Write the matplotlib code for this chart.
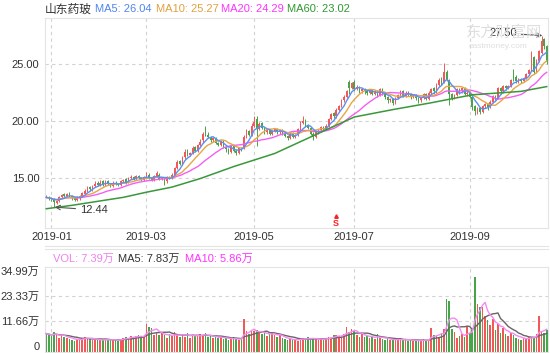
import numpy as np
import pandas as pd
import matplotlib
matplotlib.use('Agg')
import matplotlib.pyplot as plt
from matplotlib.lines import Line2D

plt.rcParams['font.family'] = ['Liberation Sans', 'Noto Sans CJK SC']

# daily K-line data, one value per trading day (2018-12-27 .. 2019-10-22)
opens = [13.4, 13.3, 13.2, 13.1, 12.8, 13.0, 13.3, 13.6, 13.4, 13.7,
         13.4, 13.2, 13.1, 13.2, 13.4, 13.6, 13.9, 14.2, 14.0, 14.3,
         14.6, 14.4, 14.7, 14.4, 14.7, 14.5, 14.3, 14.6, 14.5, 14.4,
         14.7, 14.9, 14.7, 15.0, 15.1, 14.9, 15.2, 15.0, 14.8, 15.1,
         15.3, 15.0, 14.8, 15.2, 15.3, 14.9, 15.0, 14.7, 15.1, 15.0,
         15.3, 15.9, 16.5, 16.2, 16.8, 17.4, 17.0, 17.2, 17.7, 17.4,
         17.9, 18.3, 19.4, 18.8, 18.6, 18.3, 18.5, 18.1, 17.9, 18.2,
         17.7, 17.5, 17.3, 17.8, 17.4, 17.2, 17.6, 17.6, 18.6, 19.1,
         18.8, 19.6, 20.2, 19.3, 19.8, 19.4, 19.0, 19.2, 18.9, 19.1,
         19.3, 19.0, 19.2, 18.9, 18.7, 18.5, 18.9, 18.6, 18.8, 19.3,
         19.8, 20.1, 19.6, 19.4, 18.9, 18.6, 19.0, 19.2, 19.5, 19.3,
         19.6, 20.2, 20.7, 20.4, 21.0, 21.3, 21.8, 22.1, 23.4, 22.9,
         23.4, 22.8, 23.0, 22.6, 22.8, 22.6, 22.5, 22.7, 22.4, 22.6,
         22.3, 22.8, 22.4, 22.1, 21.8, 21.9, 21.6, 22.0, 22.3, 22.6,
         22.2, 22.5, 22.4, 22.1, 22.3, 22.0, 21.8, 22.0, 22.4, 21.9,
         22.5, 22.9, 22.6, 23.2, 23.7, 23.4, 24.3, 23.6, 22.4, 22.0,
         22.3, 22.8, 22.6, 22.9, 22.4, 22.5, 22.1, 21.3, 20.8, 21.1,
         20.8, 21.3, 21.5, 21.2, 21.7, 22.2, 22.0, 22.9, 22.6, 23.1,
         22.9, 23.1, 24.4, 23.9, 23.5, 23.7, 23.5, 23.8, 24.1, 24.5,
         25.6, 24.3, 25.3, 26.0, 27.2, 26.6]
closes = [13.3, 13.2, 13.1, 12.9, 13.0, 13.3, 13.5, 13.4, 13.6, 13.4,
          13.2, 13.1, 13.3, 13.4, 13.7, 13.9, 14.1, 14.0, 14.3, 14.5,
          14.4, 14.6, 14.4, 14.7, 14.5, 14.3, 14.6, 14.5, 14.4, 14.7,
          14.8, 14.6, 15.0, 15.1, 14.9, 15.2, 15.0, 14.8, 15.1, 15.3,
          15.0, 14.8, 15.2, 15.4, 14.9, 15.0, 14.7, 15.1, 15.0, 15.3,
          15.9, 16.4, 16.2, 16.8, 17.3, 17.0, 17.2, 17.6, 17.4, 17.9,
          18.2, 18.9, 18.8, 18.6, 18.3, 18.5, 18.1, 17.9, 18.2, 17.7,
          17.5, 17.3, 17.8, 17.4, 17.2, 17.6, 17.5, 18.6, 19.1, 18.8,
          19.6, 19.9, 19.3, 19.7, 19.4, 19.0, 19.2, 18.9, 19.1, 19.3,
          19.0, 19.2, 18.9, 18.7, 18.5, 18.9, 18.6, 18.8, 19.3, 19.8,
          20.0, 19.6, 19.4, 18.9, 18.6, 19.0, 19.2, 19.5, 19.3, 19.6,
          20.2, 20.6, 20.4, 21.0, 21.3, 21.8, 22.1, 22.6, 22.9, 23.3,
          22.8, 23.0, 22.6, 22.8, 22.6, 22.5, 22.7, 22.4, 22.6, 22.3,
          22.8, 22.4, 22.1, 21.8, 21.9, 21.6, 22.0, 22.3, 22.6, 22.2,
          22.5, 22.4, 22.1, 22.3, 22.0, 21.8, 22.0, 22.4, 21.9, 22.5,
          22.8, 22.6, 23.2, 23.6, 23.4, 24.3, 23.7, 22.4, 22.0, 22.3,
          22.8, 22.6, 22.9, 22.4, 22.5, 22.1, 21.2, 20.9, 21.0, 20.8,
          21.3, 21.5, 21.2, 21.7, 22.2, 22.0, 22.9, 22.6, 23.1, 22.9,
          23.1, 23.6, 23.9, 23.5, 23.7, 23.5, 23.8, 24.1, 24.5, 25.8,
          24.3, 25.3, 26.1, 27.0, 26.6, 25.2]
highs = [13.5, 13.4, 13.3, 13.2, 13.1, 13.4, 13.6, 13.7, 13.7, 13.8,
         13.5, 13.3, 13.4, 13.5, 13.8, 14.0, 14.3, 14.3, 14.4, 14.7,
         14.7, 14.8, 14.8, 14.8, 14.8, 14.6, 14.7, 14.7, 14.6, 14.8,
         14.9, 15.0, 15.1, 15.3, 15.2, 15.3, 15.3, 15.1, 15.2, 15.5,
         15.4, 15.1, 15.3, 15.6, 15.4, 15.1, 15.1, 15.2, 15.2, 15.4,
         16.0, 16.6, 16.6, 16.9, 17.5, 17.5, 17.3, 17.8, 17.8, 18.0,
         18.4, 19.0, 19.6, 19.0, 18.7, 18.6, 18.6, 18.2, 18.3, 18.3,
         17.8, 17.6, 17.9, 17.9, 17.5, 17.7, 17.7, 18.8, 19.3, 19.2,
         19.8, 20.4, 20.4, 19.9, 19.9, 19.5, 19.3, 19.3, 19.2, 19.4,
         19.4, 19.3, 19.3, 19.0, 18.8, 19.0, 19.0, 18.9, 19.4, 20.0,
         20.4, 20.2, 19.7, 19.5, 19.0, 19.1, 19.3, 19.6, 19.6, 19.7,
         20.3, 20.7, 20.8, 21.1, 21.4, 21.9, 22.3, 22.7, 23.6, 23.4,
         23.6, 23.2, 23.1, 22.9, 22.9, 22.7, 22.8, 22.8, 22.7, 22.7,
         22.9, 22.9, 22.5, 22.2, 22.0, 22.0, 22.1, 22.4, 22.7, 22.7,
         22.6, 22.6, 22.5, 22.4, 22.4, 22.1, 22.1, 22.5, 22.5, 22.6,
         22.9, 23.0, 23.3, 23.8, 23.9, 25.1, 24.5, 23.7, 22.5, 22.4,
         22.9, 22.9, 23.0, 23.0, 22.6, 22.6, 22.2, 21.4, 21.2, 21.2,
         21.4, 21.6, 21.6, 21.8, 22.3, 22.3, 23.0, 23.0, 23.2, 23.2,
         23.2, 23.7, 24.6, 24.0, 23.8, 23.8, 23.9, 24.2, 24.6, 26.1,
         25.7, 25.4, 26.2, 27.5, 27.3, 26.7]
lows = [13.2, 13.1, 13.0, 12.44, 12.7, 12.9, 13.2, 13.3, 13.3, 13.3,
        13.1, 13.0, 13.0, 13.1, 13.3, 13.5, 13.8, 13.9, 13.9, 14.2,
        14.3, 14.3, 14.3, 14.3, 14.4, 14.2, 14.2, 14.4, 14.3, 14.3,
        14.6, 14.5, 14.6, 14.9, 14.8, 14.8, 14.9, 14.7, 14.7, 15.0,
        14.9, 14.7, 14.7, 15.1, 14.8, 14.8, 14.4, 14.6, 14.9, 14.9,
        15.2, 15.8, 16.1, 16.1, 16.7, 16.9, 16.9, 17.1, 17.3, 17.3,
        17.8, 18.1, 18.7, 18.5, 18.2, 18.2, 18.0, 17.8, 17.8, 17.6,
        17.3, 17.1, 17.2, 17.3, 17.0, 17.1, 17.4, 17.5, 18.5, 18.7,
        18.7, 19.5, 17.8, 19.2, 19.3, 18.9, 18.9, 18.8, 18.8, 19.0,
        18.9, 18.9, 18.8, 18.6, 18.3, 18.4, 18.5, 18.5, 18.7, 19.2,
        19.7, 19.5, 19.3, 18.8, 18.3, 18.5, 18.9, 19.1, 19.2, 19.2,
        19.5, 20.1, 20.3, 20.3, 20.9, 21.2, 21.7, 22.0, 22.4, 22.8,
        22.6, 22.7, 22.5, 22.5, 22.4, 22.3, 22.4, 22.3, 22.3, 22.1,
        22.2, 22.3, 21.9, 21.6, 21.7, 21.4, 21.5, 21.9, 22.2, 22.1,
        22.1, 22.2, 21.9, 22.0, 21.8, 21.6, 21.7, 21.9, 21.8, 21.8,
        22.4, 22.4, 22.5, 23.1, 23.2, 23.3, 23.5, 21.4, 21.8, 21.9,
        22.2, 22.4, 22.5, 22.3, 22.2, 22.0, 21.0, 20.5, 20.6, 20.6,
        20.7, 21.1, 21.0, 21.1, 21.6, 21.8, 21.9, 22.4, 22.5, 22.7,
        22.8, 23.0, 23.5, 23.3, 23.3, 23.3, 23.4, 23.7, 24.0, 24.4,
        24.1, 24.2, 25.2, 25.9, 26.3, 25.0]
# volume in 万 shares
volumes = [5.8, 5.2, 4.6, 6.3, 5.5, 3.9, 5.0, 4.2, 3.6, 3.3,
           2.9, 2.5, 3.4, 3.0, 3.8, 4.4, 3.7, 3.2, 2.9, 2.6,
           3.1, 2.8, 2.7, 3.3, 2.9, 2.6, 3.0, 2.8, 2.5, 3.4,
           3.9, 4.2, 3.6, 4.5, 4.1, 4.8, 5.2, 3.8, 4.4, 10.4,
           9.0, 8.6, 5.1, 6.7, 4.9, 6.0, 5.2, 3.8, 5.5, 4.6,
           6.4, 5.0, 4.4, 5.8, 4.2, 6.2, 3.5, 5.1, 4.7, 4.9,
           5.6, 4.8, 5.9, 4.1, 4.5, 3.7, 4.3, 3.9, 4.6, 3.2,
           3.6, 2.9, 3.3, 4.0, 3.1, 2.8, 3.5, 12.5, 7.2, 5.6,
           7.3, 6.8, 7.5, 6.2, 5.4, 6.0, 4.6, 5.8, 6.4, 5.1,
           4.3, 4.9, 3.7, 3.3, 2.6, 3.1, 2.8, 3.4, 2.5, 3.6,
           3.9, 3.2, 4.0, 2.9, 3.7, 3.3, 2.8, 3.4, 3.0, 3.9,
           4.4, 3.8, 4.9, 5.3, 4.7, 4.5, 5.8, 9.0, 6.4, 7.8,
           6.9, 5.2, 4.4, 5.6, 4.1, 4.8, 3.6, 4.2, 3.4, 5.5,
           3.8, 3.2, 2.9, 3.5, 2.7, 3.1, 2.6, 2.9, 3.6, 2.8,
           3.0, 2.5, 2.7, 2.4, 2.8, 2.3, 2.6, 3.2, 2.5, 2.9,
           8.6, 5.0, 4.7, 4.4, 6.1, 8.0, 22.0, 21.0, 7.7, 6.3,
           3.9, 4.6, 5.8, 4.3, 9.2, 6.1, 7.4, 32.0, 19.6, 18.0,
           18.2, 14.0, 12.3, 9.6, 12.8, 7.6, 10.1, 6.2, 8.4, 5.5,
           4.7, 6.0, 5.1, 3.8, 3.2, 2.9, 3.5, 3.8, 4.2, 4.0,
           3.95, 5.5, 14.0, 6.3, 5.96, 7.39]

# MA60 (needs history before the window)
ma60_days = [0, 10, 20, 30, 39, 49, 60, 73, 89, 104, 120, 135, 150, 166, 185, 195]
ma60_vals = [12.3, 12.6, 12.95, 13.3, 13.75, 14.2, 14.95, 16.0, 17.15, 18.7,
             20.35, 21.0, 21.6, 22.3, 22.6, 23.02]

month_days = [2, 39, 81, 120, 165]
month_labels = ['2019-01', '2019-03', '2019-05', '2019-07', '2019-09']
price_ticks = [15, 20, 25]
vol_ticks = [0, 11.66, 23.33, 34.99]
vol_labels = ['0', '11.66万', '23.33万', '34.99万']

assert len(opens) == len(closes) == len(highs) == len(lows) == len(volumes)

RED = '#f45757'
GREEN = '#48a448'
GRID = '#d2d2d2'
EDGE = '#e4e4e4'
W, H = 550, 353

fig = plt.figure(figsize=(W / 100, H / 100), dpi=100)
ax = fig.add_axes([45 / W, 1 - 228 / H, 503 / W, 210 / H])
axv = fig.add_axes([45 / W, 1 - 352 / H, 503 / W, 85 / H])

x = np.arange(len(closes))
o = np.array(opens)
c = np.array(closes)
cols = [RED if cc >= oo else GREEN for oo, cc in zip(o, c)]

# watermark, behind everything
fig.text(466 / W, 1 - 33 / H, '东方财富网', fontsize=11, color='#dedede', va='center', zorder=0)
fig.text(469 / W, 1 - 46 / H, 'eastmoney.com', fontsize=6, color='#dedede', va='center', zorder=0)
ax.set_facecolor('none')

# grid
for a in (ax, axv):
    for d in month_days:
        a.axvline(d, color=GRID, lw=0.8, ls=(0, (3, 3)), zorder=0)
    for s in a.spines.values():
        s.set_color(EDGE)
        s.set_linewidth(0.8)
for p in price_ticks:
    ax.axhline(p, color=GRID, lw=0.8, ls=(0, (3, 3)), zorder=0)
for v in vol_ticks[1:3]:
    axv.axhline(v, color=GRID, lw=0.8, ls=(0, (3, 3)), zorder=0)

# candles
ax.vlines(x, lows, highs, colors=cols, lw=0.7, zorder=2)
ax.bar(x, np.maximum(np.abs(c - o), 0.04), bottom=np.minimum(o, c),
       width=0.62, color=cols, linewidth=0, zorder=2)

s = pd.Series(closes)
ax.plot(x, s.rolling(20, min_periods=1).mean(), color='#f55ef5', lw=1.0, zorder=3)
ax.plot(x, s.rolling(10, min_periods=1).mean(), color='#e8a547', lw=1.0, zorder=3)
ax.plot(x, s.rolling(5, min_periods=1).mean(), color='#5b8ff5', lw=1.0, zorder=3)
ax.plot(ma60_days, ma60_vals, color='#3a983a', lw=1.1, zorder=3)

ax.set_xlim(-0.5, len(closes) - 0.5)
ax.set_ylim(10.61, 29.04)
ax.set_xticks(month_days)
ax.set_xticklabels(month_labels)
ax.set_yticks(price_ticks)
ax.set_yticklabels(['%.2f' % p for p in price_ticks])
ax.tick_params(axis='both', length=0, labelsize=8, colors='#333333')
ax.tick_params(axis='x', pad=3)
ax.tick_params(axis='y', pad=4)

# max / min markers
ax.annotate('12.44', xy=(3.3, 12.44), xytext=(13, 12.2), fontsize=8, color='#333333',
            ha='left', va='center',
            arrowprops=dict(arrowstyle='->', color='#555555', lw=0.8, shrinkA=1, shrinkB=0))
ax.annotate('27.50', xy=(193.3, 27.5), xytext=(183.5, 27.7), fontsize=8, color='#333333',
            ha='right', va='center', zorder=5,
            arrowprops=dict(arrowstyle='->', color='#555555', lw=0.8, shrinkA=1, shrinkB=0))

# S marker
ax.plot([113], [11.62], marker='^', ms=2.5, color='#ff2020', zorder=4)
ax.text(113, 11.0, 'S', color='#ff2020', fontsize=6.5, fontweight='bold',
        ha='center', va='center')

# volume
axv.bar(x, np.array(volumes) + 2.8, bottom=-2.8, width=0.62, color=cols, linewidth=0, zorder=2)
vs = pd.Series(volumes)
axv.plot(x, vs.rolling(10, min_periods=1).mean(), color='#666666', lw=1.0, zorder=3)
axv.plot(x, vs.rolling(5, min_periods=1).mean(), color='#f48af4', lw=1.0, zorder=3)
axv.set_xlim(-0.5, len(closes) - 0.5)
axv.set_ylim(-2.8, 36.85)
axv.set_xticks([])
axv.set_yticks(vol_ticks)
axv.set_yticklabels(vol_labels)
axv.tick_params(axis='y', length=0, labelsize=8, colors='#333333', pad=4)

# header texts
fy = 1 - 9.5 / H
fig.text(45 / W, fy, '山东药玻', fontsize=8.5, color='#333333', va='center')
fig.text(95 / W, fy, 'MA5: 26.04', fontsize=8, color='#4d86f0', va='center')
fig.text(156 / W, fy, 'MA10: 25.27', fontsize=8, color='#e0a040', va='center')
fig.text(221 / W, fy, 'MA20: 24.29', fontsize=8, color='#ff33ff', va='center')
fig.text(287 / W, fy, 'MA60: 23.02', fontsize=8, color='#2e9a2e', va='center')

vy = 1 - 259 / H
fig.text(53 / W, vy, 'VOL: 7.39万', fontsize=8, color='#ee82ee', va='center')
fig.text(118 / W, vy, 'MA5: 7.83万', fontsize=8, color='#333333', va='center')
fig.text(185 / W, vy, 'MA10: 5.86万', fontsize=8, color='#ff33ff', va='center')

# separators between panels
for yy in (246, 249):
    fig.add_artist(Line2D([45 / W, 548 / W], [1 - yy / H, 1 - yy / H], color=EDGE, lw=0.8))

fig.savefig('out.png', dpi=100)
